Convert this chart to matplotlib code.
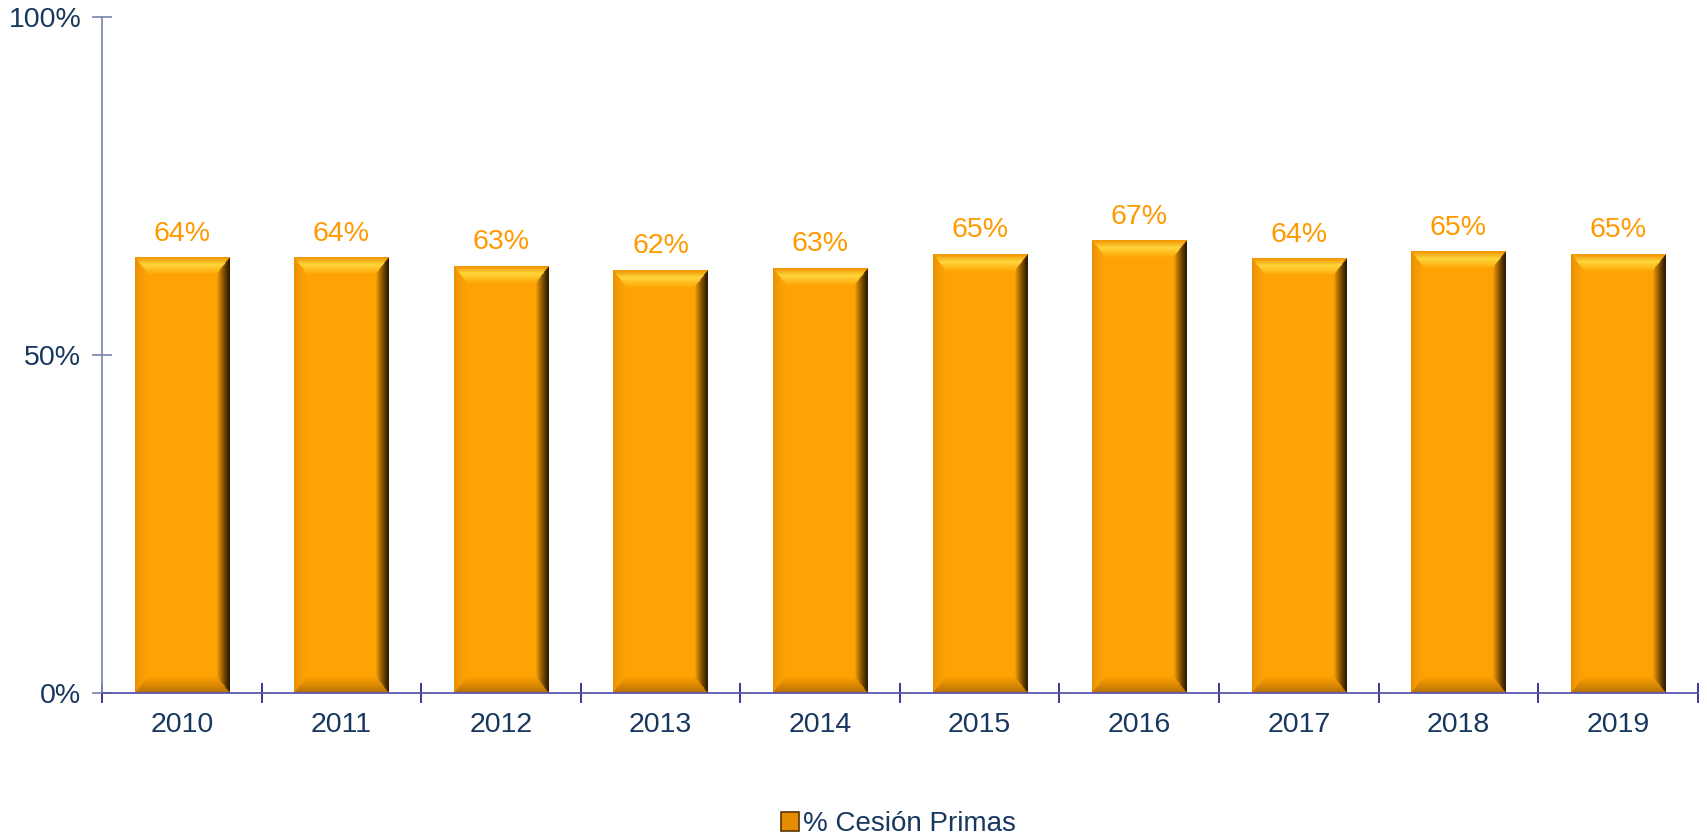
import numpy as np
import matplotlib.pyplot as plt
from matplotlib.patches import Patch

# data
years = ['2010', '2011', '2012', '2013', '2014', '2015', '2016', '2017', '2018', '2019']
cesion = [64.4, 64.4, 63.1, 62.5, 62.8, 64.9, 66.9, 64.2, 65.3, 64.9]
y_ticks = [0, 50, 100]
series_name = '% Cesión Primas'

TXT = '#17375E'
LBL = '#FF9900'

plt.rcParams['font.family'] = ['Liberation Sans', 'DejaVu Sans']


def hex2rgb(h):
    h = h.lstrip('#')
    return np.array([int(h[i:i + 2], 16) / 255 for i in (0, 2, 4)])


def lerp(c0, c1, t):
    t = np.clip(t, 0, 1)[..., None]
    return c0 * (1 - t) + c1 * t


def bevel_image(height, bx, by, nx=120, ny=500):
    # each pixel takes the shade of its nearest edge when inside the bevel
    xs = (np.arange(nx) + 0.5) / nx
    ys = (np.arange(ny) + 0.5) / ny * height
    X, Y = np.meshgrid(xs, ys)
    stack = np.stack([X / bx, (1 - X) / bx, Y / by, (height - Y) / by])
    region = np.argmin(stack, axis=0)
    m = np.min(stack, axis=0)

    face = hex2rgb('#FFA305')
    img = np.ones((ny, nx, 3)) * face
    inb = m < 1
    sel = inb & (region == 0)
    img[sel] = lerp(hex2rgb('#E08C00'), face, m[sel] ** 0.5)
    sel = inb & (region == 1)
    img[sel] = lerp(hex2rgb('#2A1800'), face, m[sel] ** 1.2)
    sel = inb & (region == 2)
    img[sel] = lerp(hex2rgb('#B06A00'), face, m[sel] ** 0.8)
    sel = inb & (region == 3)
    t = m[sel]
    img[sel] = np.where(t[:, None] < 0.45,
                        lerp(hex2rgb('#F09000'), hex2rgb('#FFD63C'), t / 0.45),
                        lerp(hex2rgb('#FFD63C'), hex2rgb('#FFA808'), (t - 0.45) / 0.55))
    return img


fig = plt.figure(figsize=(17.08, 8.35), dpi=100)
ax = fig.add_axes([0.0597, 0.170, 0.9343, 0.8096])

x = np.arange(len(years))
bar_w = 0.59
for xi, v in zip(x, cesion):
    img = bevel_image(v, bx=0.14, by=2.5)
    ax.imshow(img, extent=(xi - bar_w / 2, xi + bar_w / 2, 0, v),
              origin='lower', aspect='auto', interpolation='bilinear', zorder=2)
    ax.annotate(f'{round(v):d}%', (xi, v), xytext=(0, 8), textcoords='offset points',
                ha='center', va='bottom', color=LBL, fontsize=20.5)

ax.set_xlim(-0.5, len(years) - 0.5)
ax.set_ylim(0, 100)
ax.set_aspect('auto')

ax.set_yticks(y_ticks)
ax.set_yticklabels([f'{t}%' for t in y_ticks])
ax.set_xticks(x)
ax.set_xticklabels(years)
ax.set_xticks(np.arange(-0.5, len(years)), minor=True)

ax.tick_params(axis='x', which='major', length=0, pad=14, labelsize=20.5, labelcolor=TXT)
ax.tick_params(axis='x', which='minor', direction='inout', length=14, width=1.3, color='#2A2A8C')
ax.tick_params(axis='y', which='major', direction='inout', length=14, width=1.3,
               color='#7F8FB0', labelsize=20.5, labelcolor=TXT, pad=8)

for s in ['top', 'right']:
    ax.spines[s].set_visible(False)
ax.spines['left'].set_color('#7F8FB0')
ax.spines['left'].set_linewidth(1.3)
ax.spines['bottom'].set_color('#5858B0')
ax.spines['bottom'].set_linewidth(1.3)
ax.spines['bottom'].set_zorder(3)

handle = Patch(facecolor='#E58C00', edgecolor='#5A3600', linewidth=1.2)
fig.legend([handle], [series_name], loc='center', bbox_to_anchor=(0.526, 0.013),
           frameon=False, fontsize=20, labelcolor=TXT, handlelength=0.65,
           handleheight=0.65, handletextpad=0.15)

fig.savefig('out.png', dpi=100)
